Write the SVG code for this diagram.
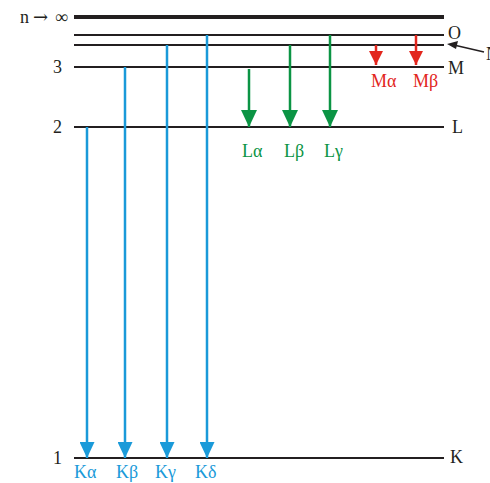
<svg xmlns="http://www.w3.org/2000/svg" width="490" height="483" viewBox="0 0 490 483">
<style>
.lvl{stroke:#231f20;stroke-width:2;fill:none}
.t{font-family:"Liberation Serif",serif;font-size:18px;fill:#231f20}
.b{stroke:#1a9ad9;stroke-width:2.5}
.g{stroke:#0b9444;stroke-width:2.5}
.r{stroke:#e2261d;stroke-width:2.5}
.bt{font-family:"Liberation Serif",serif;font-size:18px;fill:#1a9ad9}
.gt{font-family:"Liberation Serif",serif;font-size:18px;fill:#0b9444}
.rt{font-family:"Liberation Serif",serif;font-size:18px;fill:#e2261d}
</style>
<defs>
<marker id="ab" viewBox="0 0 16 16" refX="16" refY="8" markerWidth="16" markerHeight="15" preserveAspectRatio="none" markerUnits="userSpaceOnUse" orient="auto"><path d="M0,0 L16,8 L0,16 Z" fill="#1a9ad9"/></marker>
<marker id="ag" viewBox="0 0 16 16" refX="16" refY="8" markerWidth="17" markerHeight="16" preserveAspectRatio="none" markerUnits="userSpaceOnUse" orient="auto"><path d="M0,0 L16,8 L0,16 Z" fill="#0b9444"/></marker>
<marker id="ar" viewBox="0 0 16 16" refX="16" refY="8" markerWidth="14" markerHeight="14" preserveAspectRatio="none" markerUnits="userSpaceOnUse" orient="auto"><path d="M0,0 L16,8 L0,16 Z" fill="#e2261d"/></marker>
</defs>
<g id="levels">
<g id="inf"><line class="lvl" x1="74" y1="17" x2="444" y2="17" style="stroke-width:4"/><text class="t" x="20" y="23">n<tspan x="33" font-family="DejaVu Serif,serif" font-size="18">→</tspan><tspan x="55">∞</tspan></text></g>
<g id="O"><line class="lvl" x1="74" y1="35" x2="444" y2="35"/><text class="t" x="448" y="39">O</text></g>
<g id="N"><line class="lvl" x1="74" y1="45" x2="444" y2="45"/><text class="t" x="486" y="60">N</text></g>
<g id="M"><line class="lvl" x1="74" y1="67" x2="444" y2="67"/><text class="t" x="448" y="74">M</text><text class="t" x="53" y="73">3</text></g>
<g id="L"><line class="lvl" x1="74" y1="127" x2="444" y2="127"/><text class="t" x="452" y="133">L</text><text class="t" x="53" y="133">2</text></g>
<g id="K"><line class="lvl" x1="74" y1="458" x2="444" y2="458"/><text class="t" x="450" y="463">K</text><text class="t" x="53" y="464">1</text></g>
</g>
<g id="connectors">
<line x1="484" y1="52" x2="456" y2="45.5" stroke="#231f20" stroke-width="1.5"/>
<path d="M447,44 L458,41 L456,49 Z" fill="#231f20"/>
<line class="b" x1="87" y1="127" x2="87" y2="458" marker-end="url(#ab)"/>
<line class="b" x1="125" y1="67" x2="125" y2="458" marker-end="url(#ab)"/>
<line class="b" x1="167" y1="45" x2="167" y2="458" marker-end="url(#ab)"/>
<line class="b" x1="207" y1="35" x2="207" y2="458" marker-end="url(#ab)"/>
<line class="g" x1="249" y1="69" x2="249" y2="127" marker-end="url(#ag)"/>
<line class="g" x1="290" y1="45" x2="290" y2="127" marker-end="url(#ag)"/>
<line class="g" x1="330" y1="35" x2="330" y2="127" marker-end="url(#ag)"/>
<line class="r" x1="376" y1="45" x2="376" y2="65" marker-end="url(#ar)"/>
<line class="r" x1="416" y1="35" x2="416" y2="65" marker-end="url(#ar)"/>
</g>
<g id="labels">
<text class="bt" x="74" y="478">Kα</text>
<text class="bt" x="116" y="478">Kβ</text>
<text class="bt" x="155" y="478">Kγ</text>
<text class="bt" x="195" y="478">Kδ</text>
<text class="gt" x="242" y="157">Lα</text>
<text class="gt" x="284" y="157">Lβ</text>
<text class="gt" x="324" y="157">Lγ</text>
<text class="rt" x="371" y="87">Mα</text>
<text class="rt" x="413" y="87">Mβ</text>
</g>
</svg>
